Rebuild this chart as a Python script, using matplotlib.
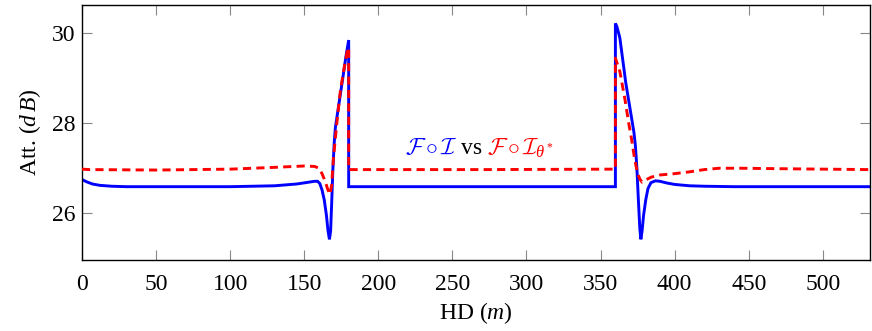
import matplotlib
matplotlib.use("Agg")
import matplotlib.pyplot as plt
from matplotlib.offsetbox import TextArea, HPacker, AnnotationBbox

OUTPUT_FIG = "out.png"

# F o I (blue, solid)
blue_x = [0, 3, 7, 12, 20, 30, 100, 130, 145, 153, 157, 159, 160.5, 162, 163.5,
          165, 166, 167, 167.8, 168.5, 169.3, 170.2, 171, 173, 176, 178, 180,
          180, 360,
          360, 361, 363, 365, 367, 369, 371, 372.5, 373.5, 374.5, 375.5, 376.5,
          377.2, 378, 379, 380.5, 382, 384, 387, 390, 395, 400, 410, 420, 440, 532]
blue_y = [26.75, 26.70, 26.65, 26.62, 26.60, 26.59, 26.59, 26.61, 26.65, 26.69,
          26.71, 26.71, 26.66, 26.52, 26.30, 25.95, 25.62, 25.42, 25.60, 26.20,
          26.95, 27.55, 27.90, 28.34, 29.00, 29.45, 29.85,
          26.59, 26.59,
          30.22, 30.15, 29.90, 29.40, 28.90, 28.50, 28.10, 27.80, 27.50, 27.00,
          26.30, 25.65, 25.42, 25.60, 25.95, 26.30, 26.55, 26.68, 26.72, 26.71,
          26.67, 26.64, 26.61, 26.60, 26.59, 26.59]

# F o I_theta* (red, dashed)
red_x = [0, 5, 50, 100, 130, 150, 157, 160, 162, 164, 166, 167.4, 168.5, 169.7,
         172, 174.2, 176, 177.5, 179, 180,
         180, 270, 360,
         360, 361, 363, 366.5, 369, 371, 373, 375, 376.5, 378, 380, 384, 390,
         400, 410, 420, 430, 445, 470, 500, 532]
red_y = [26.98, 26.97, 26.96, 26.98, 27.02, 27.05, 27.04, 27.00, 26.88, 26.72,
         26.52, 26.42, 26.62, 27.22, 28.00, 28.67, 29.05, 29.33, 29.60, 29.68,
         26.97, 26.97, 26.98,
         29.45, 29.35, 29.15, 28.52, 28.00, 27.63, 27.20, 26.88, 26.76, 26.69,
         26.73, 26.80, 26.85, 26.88, 26.92, 26.97, 27.00, 27.00, 26.99, 26.98,
         26.97]

x_ticks = [0, 50, 100, 150, 200, 250, 300, 350, 400, 450, 500]
y_ticks = [26, 28, 30]


def main():
    plt.rcParams["font.family"] = ["Liberation Serif", "DejaVu Serif"]
    plt.rcParams["mathtext.fontset"] = "custom"
    plt.rcParams["mathtext.rm"] = "Liberation Serif"
    plt.rcParams["mathtext.it"] = "Liberation Serif:italic"
    plt.rcParams["mathtext.cal"] = "cmsy10"

    fig = plt.figure(figsize=(8.72, 3.31), dpi=100)
    ax = fig.add_axes([0.094, 0.2145, 0.904, 0.7705])

    ax.plot(blue_x, blue_y, color="#0000ff", lw=2.1, solid_joinstyle="miter", zorder=2)
    ax.plot(red_x, red_y, color="#ff0000", lw=2.1, linestyle=(0, (2.8, 1.8)), zorder=3)

    ax.set_xlim(0, 532)
    ax.set_ylim(24.96, 30.63)
    ax.set_xticks(x_ticks)
    ax.set_yticks(y_ticks)
    ax.tick_params(direction="in", length=7, width=0.8, color="#888888",
                   top=True, right=True, labelsize=17)
    ax.tick_params(axis="x", pad=10)
    ax.tick_params(axis="y", pad=5)
    for s in ax.spines.values():
        s.set_linewidth(1.0)

    ax.set_xlabel(r"HD ($m$)", fontsize=17, labelpad=4)
    ax.set_ylabel(r"Att. ($d\,B$)", fontsize=17, labelpad=6)

    parts = [
        TextArea(r"$\mathcal{F}\circ\mathcal{I}$", textprops=dict(color="#0000ff", fontsize=17)),
        TextArea("vs", textprops=dict(color="black", fontsize=17)),
        TextArea(r"$\mathcal{F}\circ\mathcal{I}_{\theta^*}$", textprops=dict(color="#ff0000", fontsize=17)),
    ]
    box = HPacker(children=parts, align="baseline", pad=0, sep=3)
    ab = AnnotationBbox(box, (268, 27.45), xycoords="data", frameon=False, box_alignment=(0.5, 0.5))
    ax.add_artist(ab)

    plt.savefig(OUTPUT_FIG, dpi=100)
    print(f"Saved: {OUTPUT_FIG}")


if __name__ == "__main__":
    main()
